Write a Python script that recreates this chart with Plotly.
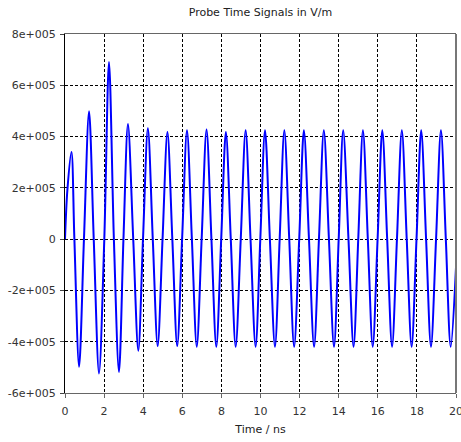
import plotly.graph_objects as go

# Readings from the picture: extrema and zero crossings of the probe signal
time_ns = [0.00, 0.12, 0.33, 0.48, 0.72, 0.97, 1.23, 1.47, 1.74, 2.01, 2.25, 2.50, 2.76, 2.99,
           3.22, 3.49, 3.75, 3.99, 4.24, 4.49, 4.74, 4.99, 5.24, 5.49, 5.74, 5.99,
           6.24, 6.49, 6.74, 6.99, 7.24, 7.49, 7.74, 7.99, 8.23, 8.48, 8.73, 8.99,
           9.24, 9.49, 9.75, 9.99, 10.23, 10.48, 10.74, 10.98, 11.22, 11.47, 11.72, 11.98,
           12.22, 12.48, 12.74, 12.99, 13.24, 13.50, 13.76, 14.00, 14.23, 14.50, 14.76, 15.00,
           15.24, 15.49, 15.74, 15.99, 16.23, 16.48, 16.73, 16.98, 17.23, 17.48, 17.73, 17.98,
           18.22, 18.47, 18.72, 18.98, 19.23, 19.48, 19.73, 20.00]
field_vm = [0, 1.9e5, 3.40e5, 0, -4.98e5, 0, 4.99e5, 0, -5.24e5, 0, 6.91e5, 0, -5.18e5, 0,
            4.49e5, 0, -4.35e5, 0, 4.32e5, 0, -4.17e5, 0, 4.18e5, 0, -4.17e5, 0,
            4.25e5, 0, -4.20e5, 0, 4.28e5, 0, -4.20e5, 0, 4.18e5, 0, -4.20e5, 0,
            4.25e5, 0, -4.20e5, 0, 4.25e5, 0, -4.20e5, 0, 4.25e5, 0, -4.20e5, 0,
            4.25e5, 0, -4.20e5, 0, 4.25e5, 0, -4.20e5, 0, 4.25e5, 0, -4.20e5, 0,
            4.25e5, 0, -4.20e5, 0, 4.25e5, 0, -4.20e5, 0, 4.25e5, 0, -4.20e5, 0,
            4.25e5, 0, -4.20e5, 0, 4.25e5, 0, -4.20e5, -1.1e5]

x_ticks = [0, 2, 4, 6, 8, 10, 12, 14, 16, 18, 20]
y_ticks = [-6e5, -4e5, -2e5, 0, 2e5, 4e5, 6e5, 8e5]
y_tick_text = ["-6e+005", "-4e+005", "-2e+005", "0", "2e+005", "4e+005", "6e+005", "8e+005"]

FONT = "DejaVu Sans"
W, H = 461, 442

fig = go.Figure()
fig.add_trace(go.Scatter(
    x=time_ns, y=field_vm, mode="lines",
    line=dict(color="#0000FF", width=2, shape="spline", smoothing=0.9),
    hoverinfo="skip", showlegend=False,
))

fig.update_layout(
    width=W, height=H,
    margin=dict(l=65, r=5, t=34, b=49, autoexpand=False),
    paper_bgcolor="white", plot_bgcolor="white",
    font=dict(family=FONT, size=11, color="#333333"),
    title=dict(text="Probe Time Signals in V/m", x=0.5, xref="paper", xanchor="center",
               y=1 - 12 / H, yref="container", yanchor="middle",
               font=dict(family=FONT, size=11, color="#222222")),
    xaxis=dict(
        range=[0, 20], tickvals=x_ticks, ticktext=[str(v) for v in x_ticks],
        automargin=False, ticklabeloverflow="allow", ticklabelstandoff=4,
        showgrid=True, gridcolor="#000000", griddash="3px,2px", gridwidth=1,
        showline=True, linecolor="#666666", linewidth=1, mirror=True,
        ticks="outside", ticklen=4, tickcolor="#666666",
        zeroline=False,
        title=dict(text="Time / ns", standoff=8, font=dict(family=FONT, size=11, color="#222222")),
    ),
    yaxis=dict(
        range=[-6e5, 8e5], tickvals=y_ticks, ticktext=y_tick_text,
        automargin=False, ticklabeloverflow="allow", ticklabelstandoff=2,
        showgrid=True, gridcolor="#000000", griddash="3px,2px", gridwidth=1,
        showline=True, linecolor="#000000", linewidth=1,
        ticks="outside", ticklen=4, tickcolor="#444444",
        zeroline=False,
    ),
)

fig.add_shape(type="line", xref="paper", yref="paper", x0=1, x1=1, y0=0, y1=1,
              line=dict(color="#777777", width=2))

fig.write_html("out.html",
               config={"displayModeBar": False},
               post_script="document.body.style.margin='0';document.body.style.overflow='hidden';")
